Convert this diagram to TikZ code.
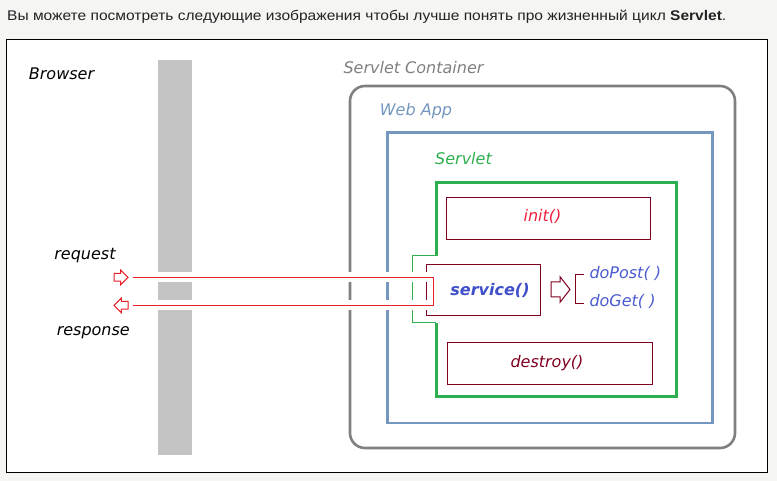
\documentclass[tikz,border=0pt]{standalone}
\usepackage{fontspec}
\setmainfont{Liberation Sans}
\newfontfamily\hand{DejaVu Sans}
\begin{document}
\begin{tikzpicture}[x=1pt,y=-1pt,
  lbl/.style={inner sep=0pt,anchor=base,font=\hand\itshape\fontsize{16}{19}\selectfont},
  box/.style={draw,inner sep=0pt,outer sep=0pt,anchor=north west},
  method/.style={box,draw=dred,line width=1pt},
  hollow/.style={line width=1pt,fill=white,line join=miter}
]
\definecolor{pagebg}{HTML}{F5F5F4}
\definecolor{cgray}{HTML}{808080}
\definecolor{cblue}{HTML}{7397BF}
\definecolor{cgreen}{HTML}{2EAF4F}
\definecolor{dred}{HTML}{800020}
\definecolor{lred}{HTML}{E8202A}
\definecolor{initred}{HTML}{F0203C}
\definecolor{sblue}{HTML}{3F4FC8}
\definecolor{mblue}{HTML}{4B5BD0}
\definecolor{barg}{HTML}{C3C3C3}
\definecolor{intro}{HTML}{222222}

\fill[pagebg] (0,0) rectangle (777,481);
\useasboundingbox (0,0) rectangle (777,481);

\node[inner sep=0pt,anchor=base west,text=intro,font=\fontsize{14}{16}\selectfont] (intro) at (7,21)
  {\scalebox{1.11}[1]{Вы можете посмотреть следующие изображения чтобы лучше понять про жизненный цикл \textbf{Servlet}.}};

\node[box,draw=black,fill=white,line width=1pt,minimum width=761pt,minimum height=432pt] (frame) at (6,40) {};

\node[box,draw=none,fill=barg,minimum width=34pt,minimum height=394.7pt] (bar) at (158,60) {};

\node[box,draw=cgray,line width=2.6pt,rounded corners=15pt,minimum width=385pt,minimum height=362pt] (container) at (350,86) {};
\node[box,draw=cblue,line width=2.6pt,minimum width=325pt,minimum height=290.3pt] (webapp) at (387.3,132.7) {};

% servlet box (open on the left around service)
\coordinate (sNW) at (436,182.7);
\coordinate (sSE) at (676.7,396.3);
\draw[cgreen,line width=3pt] (436,256) -- (sNW) -- (sSE|-sNW) -- (sSE) -- (sNW|-sSE) -- (436,323);
\draw[cgreen,line width=1pt] (436,256) -- (412.3,256) -- (412.3,323) -- (436,323);

\node[method,minimum width=204.7pt,minimum height=42pt] (init) at (446,197.3) {};
\node[method,minimum width=205.4pt,minimum height=42pt] (destroy) at (447.3,342.3) {};
\node[method,minimum width=114.7pt,minimum height=51.7pt] (service) at (426,264.3) {};

% labels
\node[lbl,text=black] (browser) at (61.5,79.3) {Browser};
\node[lbl,text=cgray] (lcont) at (413.5,74) {Servlet Container};
\node[lbl,text=cblue] (lweb) at (416,116) {Web App};
\node[lbl,text=cgreen] (lserv) at (463.5,164.3) {Servlet};
\node[lbl,text=initred] (tinit) at (542.5,221.7) {init()};
\node[lbl,text=dred] (tdestroy) at (547,367.7) {destroy()};
\node[lbl,text=sblue,font=\hand\bfseries\itshape\fontsize{16}{19}\selectfont] (tservice) at (490,295) {service()};
\node[lbl,anchor=base west,text=mblue] (dopost) at (589.3,279) {doPost( )};
\node[lbl,anchor=base west,text=mblue] (doget) at (589.3,306) {doGet( )};
\node[lbl,text=black] (request) at (85,260) {request};
\node[lbl,text=black] (response) at (93.3,335) {response};

% request / response lines with white halo
\coordinate (rqL) at (132.7,277.3);
\coordinate (rqR) at (433.7,277.3);
\coordinate (rsL) at (132.7,305.3);
\coordinate (rsR) at (433.7,305.3);
\draw[white,line width=10pt] (rqL) -- (rqR);
\draw[white,line width=10pt] (rsL) -- (rsR);
\draw[lred,line width=1pt] (rqL) -- (rqR) -- (rsR) -- (rsL);

% hollow arrows
\draw[hollow,draw=lred] (114,273.5) -- (120.7,273.5) -- (120.7,270) -- (128,277.3) -- (120.7,284.6) -- (120.7,281.1) -- (114,281.1) -- cycle;
\draw[hollow,draw=lred] (128,301.5) -- (121.3,301.5) -- (121.3,298) -- (114,305.3) -- (121.3,312.6) -- (121.3,309.1) -- (128,309.1) -- cycle;
\draw[hollow,draw=dred] (551,282) -- (560,282) -- (560,276.7) -- (570,289.5) -- (560,302.3) -- (560,297) -- (551,297) -- cycle;

% bracket
\draw[dred,line width=1pt] (584.3,275) -- (575.7,275) -- (575.7,303.3) -- (584.3,303.3);
\end{tikzpicture}
\end{document}
